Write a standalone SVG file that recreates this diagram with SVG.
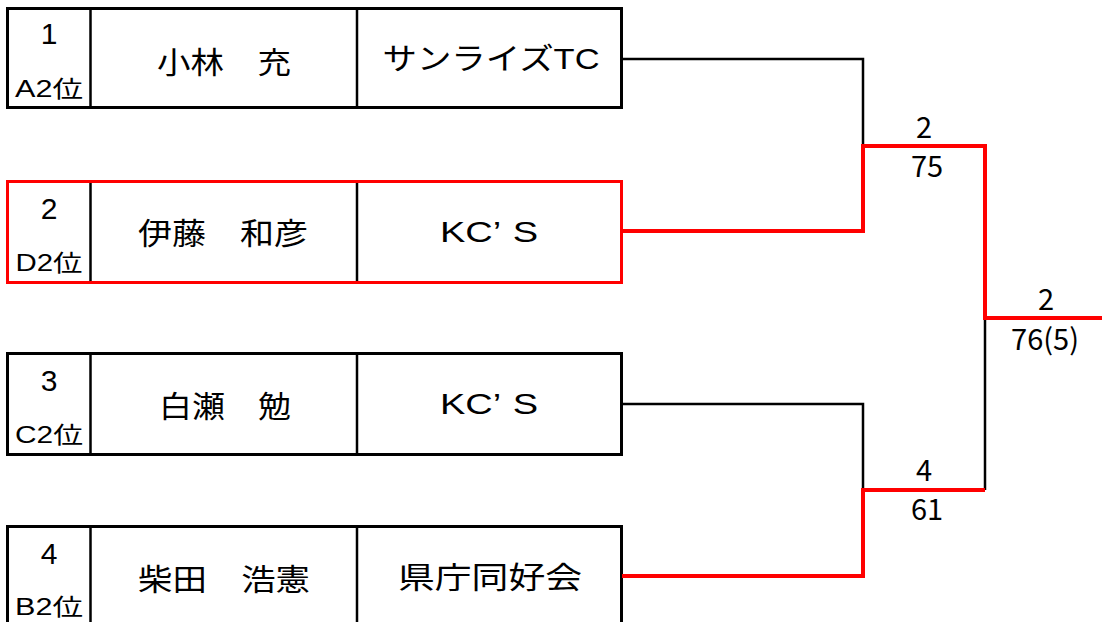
<svg xmlns="http://www.w3.org/2000/svg" width="1102" height="622" viewBox="0 0 1102 622">
<style>
.box{fill:#fff;stroke:#000;stroke-width:3}
.red{stroke:#f00}
.div{stroke:#000;stroke-width:2.5}
.t{font-family:"Liberation Sans","Noto Sans CJK JP",sans-serif;fill:#000;text-anchor:middle}
.num{font-size:30px}
.rank{font-size:23px}
.name{font-size:30px;font-family:"Noto Sans CJK JP",sans-serif;dominant-baseline:central}
.team{font-size:30px;dominant-baseline:central}
.sc{font-family:"Noto Sans CJK JP","Liberation Sans",sans-serif;font-size:29px;fill:#000;text-anchor:middle}
.cb{fill:none;stroke:#000;stroke-width:2.5}
.cr{fill:none;stroke:#f00;stroke-width:4}
</style>
<rect width="1102" height="622" fill="#fff"/>
<g id="player1">
<rect class="box" x="7.5" y="8.5" width="614" height="99"/>
<line class="div" x1="90.5" y1="8.5" x2="90.5" y2="107.5"/>
<line class="div" x1="357" y1="8.5" x2="357" y2="107.5"/>
<text class="t num" x="49" y="44">1</text>
<text class="t rank" x="49" y="97" textLength="68" lengthAdjust="spacingAndGlyphs">A2位</text>
<text class="t name" x="224" y="60" textLength="134" lengthAdjust="spacingAndGlyphs">小林　充</text>
<text class="t team" x="491" y="58" textLength="217" lengthAdjust="spacingAndGlyphs">サンライズTC</text>
</g>
<g id="player2">
<rect class="box red" x="7.5" y="181.5" width="614" height="101"/>
<line class="div" x1="90.5" y1="183" x2="90.5" y2="281"/>
<line class="div" x1="357" y1="183" x2="357" y2="281"/>
<text class="t num" x="49" y="219">2</text>
<text class="t rank" x="49" y="271" textLength="67" lengthAdjust="spacingAndGlyphs">D2位</text>
<text class="t name" x="223" y="231" textLength="170" lengthAdjust="spacingAndGlyphs">伊藤　和彦</text>
<text class="t team" x="489" y="231" textLength="98" lengthAdjust="spacingAndGlyphs">KC’<tspan dx="9">S</tspan></text>
</g>
<g id="player3">
<rect class="box" x="7.5" y="353.5" width="614" height="101"/>
<line class="div" x1="90.5" y1="353.5" x2="90.5" y2="454.5"/>
<line class="div" x1="357" y1="353.5" x2="357" y2="454.5"/>
<text class="t num" x="49" y="391">3</text>
<text class="t rank" x="49" y="443" textLength="68" lengthAdjust="spacingAndGlyphs">C2位</text>
<text class="t name" x="225" y="404" textLength="132" lengthAdjust="spacingAndGlyphs">白瀬　勉</text>
<text class="t team" x="489" y="403" textLength="98" lengthAdjust="spacingAndGlyphs">KC’<tspan dx="9">S</tspan></text>
</g>
<g id="player4">
<rect class="box" x="7.5" y="526.5" width="614" height="101"/>
<line class="div" x1="90.5" y1="526.5" x2="90.5" y2="622"/>
<line class="div" x1="357" y1="526.5" x2="357" y2="622"/>
<text class="t num" x="49" y="564">4</text>
<text class="t rank" x="49" y="615" textLength="68" lengthAdjust="spacingAndGlyphs">B2位</text>
<text class="t name" x="224" y="577" textLength="172" lengthAdjust="spacingAndGlyphs">柴田　浩憲</text>
<text class="t team" x="490" y="577" textLength="184" lengthAdjust="spacingAndGlyphs">県庁同好会</text>
</g>
<g id="connectors">
<polyline class="cb" points="622,59 863,59 863,146"/>
<polyline class="cb" points="622,404 863,404 863,490"/>
<line class="cb" x1="985" y1="318" x2="985" y2="490"/>
<polyline class="cr" points="622,231 863,231 863,146 985,146 985,318 1102,318"/>
<polyline class="cr" points="622,576 863,576 863,490 985,490"/>
</g>
<g id="scores">
<text class="sc" x="924" y="138">2</text>
<text class="sc" x="927" y="177">75</text>
<text class="sc" x="1046" y="310">2</text>
<text class="sc" x="1045" y="350">76(5)</text>
<text class="sc" x="924" y="481">4</text>
<text class="sc" x="927" y="520">61</text>
</g>
</svg>
